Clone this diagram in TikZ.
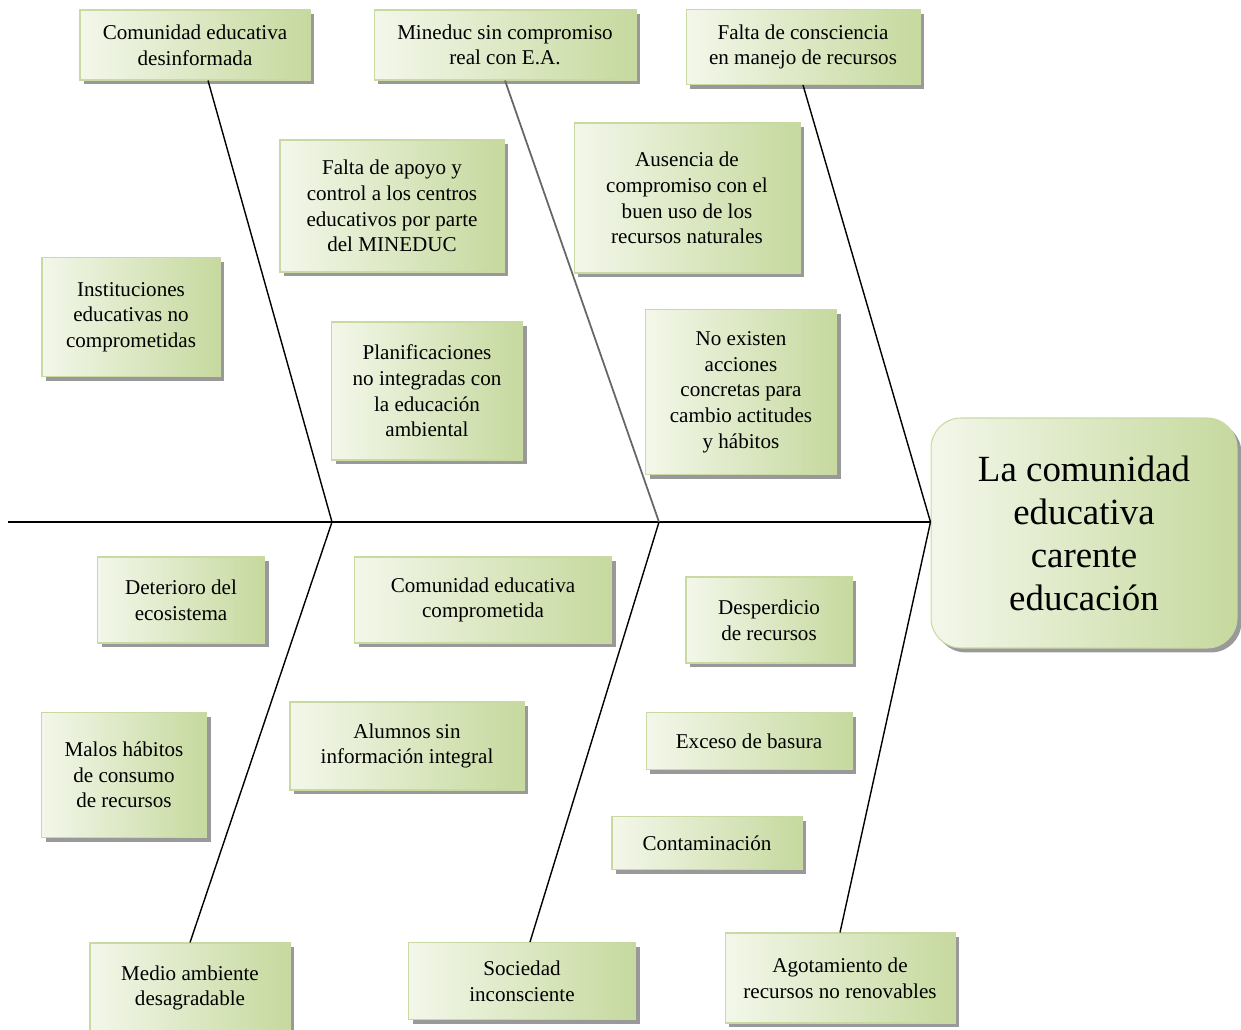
\documentclass[tikz,border=0pt]{standalone}
\usepackage{fontspec}
\setmainfont{Liberation Serif}
\usetikzlibrary{shadows}
\definecolor{boxlight}{RGB}{243,247,234}
\definecolor{boxdark}{RGB}{198,217,158}
\definecolor{boxline}{RGB}{200,218,162}

\begin{document}
\begin{tikzpicture}[x=0.02cm,y=-0.02cm,
  cause/.style={draw=boxline,line width=0.6pt,left color=boxlight,right color=boxdark,
    drop shadow={shadow xshift=2.5pt,shadow yshift=-2.5pt,fill=black!40,opacity=1},
    align=center,inner sep=2pt,font=\fontsize{12}{14.6}\selectfont},
  effect/.style={cause,rounded corners=0.6cm,font=\fontsize{21}{24.5}\selectfont},
  bone/.style={line width=0.8pt}]
  \useasboundingbox (0,0) rectangle (1241,1030);

  \node[cause,minimum width=4.6cm,minimum height=1.4cm] (desinf) at (195,45) {Comunidad educativa\\desinformada};
  \node[cause,minimum width=5.24cm,minimum height=1.4cm] (mineduc) at (505,45) {Mineduc sin compromiso\\real con E.A.};
  \node[cause,minimum width=4.68cm,minimum height=1.5cm] (concien) at (803,47) {Falta de consciencia\\en manejo de recursos};
  \node[cause,minimum width=4.48cm,minimum height=2.64cm] (apoyo) at (392,206) {Falta de apoyo y\\control a los centros\\educativos por parte\\del MINEDUC};
  \node[cause,minimum width=4.52cm,minimum height=3cm] (ausencia) at (687,198) {Ausencia de\\compromiso con el\\buen uso de los\\recursos naturales};
  \node[cause,minimum width=3.56cm,minimum height=2.38cm] (instit) at (131,317) {Instituciones\\educativas no\\comprometidas};
  \node[cause,minimum width=3.82cm,minimum height=2.76cm] (planif) at (427,391) {Planificaciones\\no integradas con\\la educación\\ambiental};
  \node[cause,minimum width=3.82cm,minimum height=3.3cm] (acciones) at (741,392) {No existen\\acciones\\concretas para\\cambio actitudes\\y hábitos};
  \node[effect,minimum width=6.12cm,minimum height=4.6cm] (efecto) at (1084,533) {La comunidad\\educativa\\carente\\educación};

  \node[cause,minimum width=3.34cm,minimum height=1.72cm] (deterioro) at (181,600) {Deterioro del\\ecosistema};
  \node[cause,minimum width=5.14cm,minimum height=1.72cm] (comprom) at (483,600) {Comunidad educativa\\comprometida};
  \node[cause,minimum width=3.32cm,minimum height=1.72cm] (desperd) at (769,620) {Desperdicio\\de recursos};
  \node[cause,minimum width=3.3cm,minimum height=2.5cm] (malos) at (124,775) {Malos hábitos\\de consumo\\de recursos};
  \node[cause,minimum width=4.68cm,minimum height=1.76cm] (alumnos) at (407,746) {Alumnos sin\\información integral};
  \node[cause,minimum width=4.12cm,minimum height=1.14cm] (basura) at (749,741) {Exceso de basura};
  \node[cause,minimum width=3.8cm,minimum height=1.06cm] (contam) at (707,843) {Contaminación};
  \node[cause,minimum width=4cm,minimum height=1.8cm] (medio) at (190,988) {Medio ambiente\\desagradable};
  \node[cause,minimum width=4.54cm,minimum height=1.54cm] (sociedad) at (522,981) {Sociedad\\inconsciente};
  \node[cause,minimum width=4.6cm,minimum height=1.8cm] (agotam) at (840,978) {Agotamiento de\\recursos no renovables};

  \coordinate (cola) at (8,522);
  \coordinate (j1) at (332,522);
  \coordinate (j2) at (659,522);
  \coordinate (j3) at (efecto.west |- cola);

  \draw[bone] (cola) -- (j3);
  \draw[bone] ([xshift=0.26cm]desinf.south) -- (j1) -- (medio.north);
  \draw[bone,black!60,line width=1pt] (mineduc.south) -- (j2);
  \draw[bone] (j2) -- ([xshift=0.16cm]sociedad.north);
  \draw[bone] (concien.south) -- (j3) -- (agotam.north);
\end{tikzpicture}
\end{document}
